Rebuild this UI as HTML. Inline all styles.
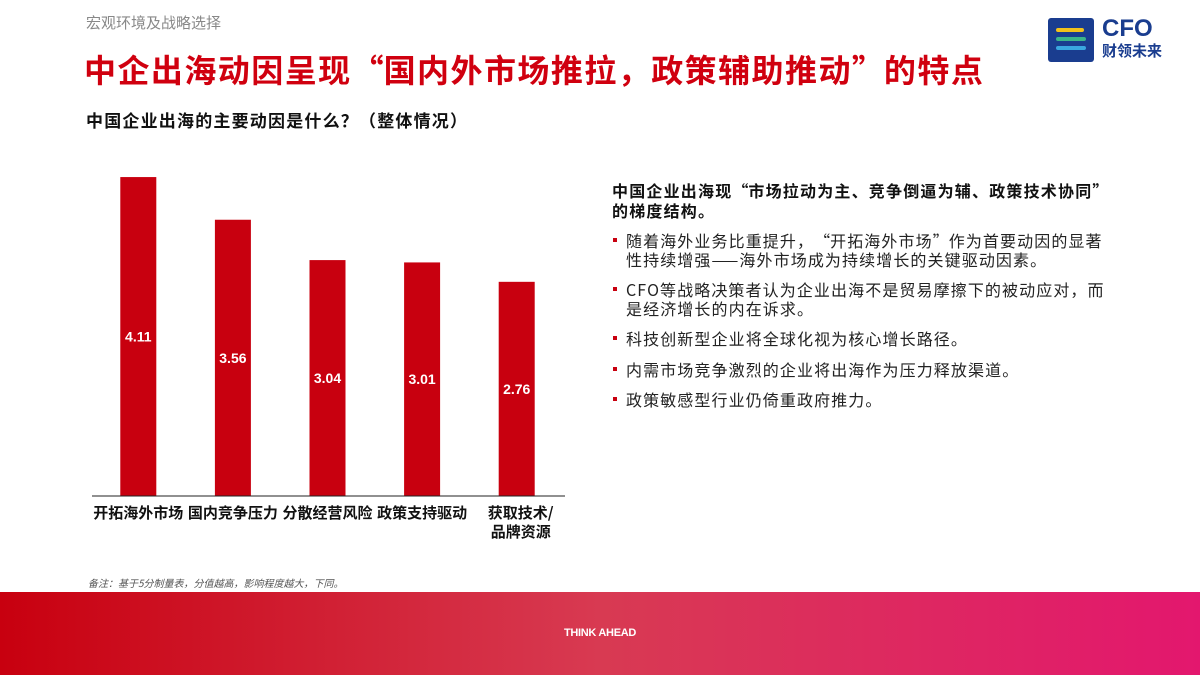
<!DOCTYPE html>
<html><head><meta charset="utf-8">
<style>
body{margin:0;width:1200px;height:675px;position:relative;overflow:hidden;background:#fff;font-family:"Liberation Sans","Noto Sans CJK SC",sans-serif;}
.abs{position:absolute;}
.cj{font-family:"Noto Sans CJK SC","Liberation Sans",sans-serif;}
.ql{display:inline-block;width:1em;text-align:right}
.qr{display:inline-block;width:1em;text-align:left}
ul{margin:0;padding:0;list-style:none}
li{position:relative;padding-left:14px;margin-bottom:12px;font-size:16px;line-height:18.5px;color:#222;white-space:nowrap;letter-spacing:1.1px}
li:before{content:"";position:absolute;left:1px;top:7px;width:4px;height:4px;background:#c8000f}
</style></head><body>
<div class="abs cj" style="left:86px;top:12px;font-size:15px;color:#888">宏观环境及战略选择</div>
<div class="abs cj" style="left:84px;top:46px;font-size:32px;font-weight:bold;color:#d0000f;letter-spacing:1.45px;white-space:nowrap">中企出海动因呈现<span class="ql">“</span>国内外市场推拉，政策辅助推动<span class="qr">”</span>的特点</div>
<div class="abs" style="left:1048px;top:18px;width:46px;height:44px;background:#1a3d8f;border-radius:3px">
<div class="abs" style="left:8px;top:10px;width:28px;height:4px;background:#f2c21b;border-radius:2px"></div>
<div class="abs" style="left:8px;top:19px;width:30px;height:4px;background:#3ab58a;border-radius:2px"></div>
<div class="abs" style="left:8px;top:28px;width:30px;height:4px;background:#3aa7e0;border-radius:2px"></div>
</div>
<div class="abs" style="left:1102px;top:16px;font-size:24px;font-weight:bold;color:#1a3d8f;line-height:26px">CFO</div>
<div class="abs cj" style="left:1102px;top:40px;font-size:15px;color:#1a3d8f;font-weight:bold">财领未来</div>
<div class="abs cj" style="left:86px;top:107px;font-size:17px;font-weight:bold;color:#111;white-space:nowrap;letter-spacing:1.2px">中国企业出海的主要动因是什么？（整体情况）</div>
<svg class="abs" style="left:0;top:0" width="600" height="560" id="chart"></svg>
<div class="abs cj" style="left:612px;top:180px;font-size:16px;line-height:20px;color:#111;font-weight:bold;white-space:nowrap;letter-spacing:1.2px">中国企业出海现<span class="ql">“</span>市场拉动为主、竞争倒逼为辅、政策技术协同<span class="qr">”</span><br>的梯度结构。</div>
<ul class="abs cj" style="left:612px;top:231px">
<li>随着海外业务比重提升，<span class="ql">“</span>开拓海外市场<span class="qr">”</span>作为首要动因的显著<br>性持续增强——海外市场成为持续增长的关键驱动因素。</li>
<li>CFO等战略决策者认为企业出海不是贸易摩擦下的被动应对，而<br>是经济增长的内在诉求。</li>
<li>科技创新型企业将全球化视为核心增长路径。</li>
<li>内需市场竞争激烈的企业将出海作为压力释放渠道。</li>
<li>政策敏感型行业仍倚重政府推力。</li>
</ul>
<div class="abs cj" style="left:88px;top:575px;font-size:10px;color:#555;font-style:italic">备注：基于5分制量表，分值越高，影响程度越大，下同。</div>
<div class="abs" style="left:0;top:592px;width:1200px;height:83px;background:linear-gradient(90deg,#c8000f,#d83a52 50%,#e3176e)"></div>
<div class="abs" style="left:0;top:627px;width:1200px;text-align:center;font-size:11px;font-weight:bold;color:#fff;letter-spacing:-0.3px">THINK AHEAD</div>
<script>
const categories=["开拓海外市场","国内竞争压力","分散经营风险","政策支持驱动","获取技术/品牌资源"];
const values=[4.11,3.56,3.04,3.01,2.76];
const labels=["4.11","3.56","3.04","3.01","2.76"];
const svg=document.getElementById('chart');const NS="http://www.w3.org/2000/svg";
const base=496,k=77.6,x0=92,x1=565,step=(x1-x0)/categories.length,bw=36;
const y=v=>base-v*k, xc=i=>x0+step*(i+0.5)-1;
function mk(t,a){const e=document.createElementNS(NS,t);for(const n in a)e.setAttribute(n,a[n]);svg.appendChild(e);return e;}
values.forEach((v,i)=>{
 const r=mk('rect',{x:xc(i)-bw/2,y:y(v),width:bw,height:v*k,fill:'#c8000f'});
 
 
 const t=mk('text',{x:xc(i),y:(y(v)+base)/2+5,'text-anchor':'middle','font-size':14,'font-weight':'bold',fill:'#fff'});
 t.textContent=labels[i];
 
 
 const parts=categories[i].length>6?[categories[i].slice(0,5),categories[i].slice(5)]:[categories[i]];
 parts.forEach((p,j)=>{const c=mk('text',{x:xc(i)+(parts.length>1?4:0),y:518+j*19,'text-anchor':'middle','font-size':15,'font-weight':'bold',fill:'#111','font-family':'Noto Sans CJK SC, Liberation Sans, sans-serif'});c.textContent=p;
 
 });
});
const ax=mk('line',{x1:x0,x2:x1,y1:base,y2:base,stroke:'#222','stroke-width':1});


</script>
</body></html>
